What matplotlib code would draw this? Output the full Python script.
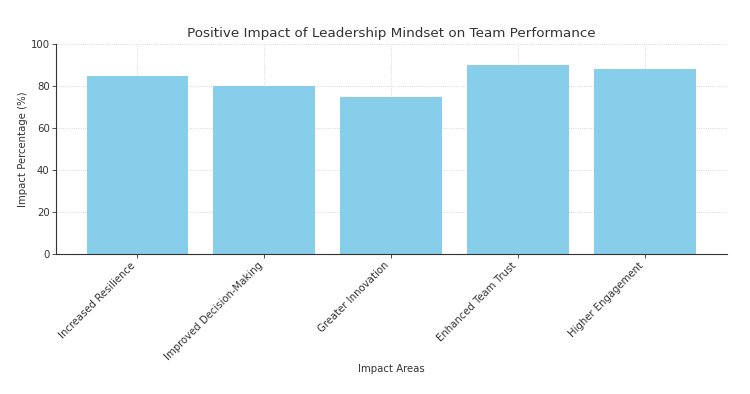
import matplotlib
matplotlib.use("Agg")
import matplotlib.pyplot as plt

categories = ["Increased Resilience", "Improved Decision-Making", "Greater Innovation",
              "Enhanced Team Trust", "Higher Engagement"]
values = [85, 80, 75, 90, 88]
yticks = [0, 20, 40, 60, 80, 100]

plt.rcParams['font.family'] = ['DejaVu Sans']
txt = '#333333'
fig = plt.figure(figsize=(7.5, 3.94), dpi=100)
ax = fig.add_axes([0.0747, 0.355, 0.894, 0.533])
ax.bar(categories, values, color='skyblue', width=0.8, zorder=2)
ax.set_ylim(0, 100)
ax.set_yticks(yticks)
ax.set_title("Positive Impact of Leadership Mindset on Team Performance", fontsize=9.7, color=txt, pad=5)
ax.set_xlabel("Impact Areas", fontsize=7.3, color=txt, labelpad=1)
ax.set_ylabel("Impact Percentage (%)", fontsize=7.3, color=txt, labelpad=2)
ax.tick_params(axis='both', labelsize=7.3, colors=txt, length=3, width=0.6, pad=1.5)
plt.setp(ax.get_xticklabels(), rotation=45, ha='right')
ax.grid(True, linestyle=':', color='#cccccc', linewidth=0.6, zorder=0)
for s in ['top', 'right']:
    ax.spines[s].set_visible(False)
for s in ['left', 'bottom']:
    ax.spines[s].set_color(txt)
    ax.spines[s].set_linewidth(0.8)
ax.set_axisbelow(True)
fig.savefig("out.png", dpi=100)
